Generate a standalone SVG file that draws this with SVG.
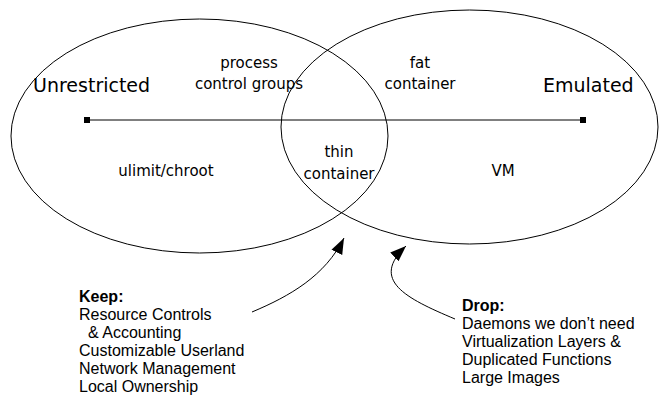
<svg xmlns="http://www.w3.org/2000/svg" width="670" height="409" viewBox="0 0 670 409">
<style>
.el{fill:none;stroke:#000;stroke-width:1}
.big{font-family:"DejaVu Sans",sans-serif;font-size:19px;fill:#000}
.mid{font-family:"DejaVu Sans",sans-serif;font-size:15px;fill:#000;text-anchor:middle}
.note{font-family:"Liberation Sans",Arial,sans-serif;font-size:16px;fill:#000}
.b{font-weight:bold}
.conn{fill:none;stroke:#000;stroke-width:1}
</style>
<defs>
<marker id="sq" markerUnits="userSpaceOnUse" markerWidth="8" markerHeight="8" refX="4" refY="4" orient="auto">
<rect x="1" y="1" width="6" height="6" fill="#000"/>
</marker>
<marker id="ah" markerUnits="userSpaceOnUse" markerWidth="18" markerHeight="14" refX="16" refY="7" orient="auto">
<path d="M16,7 L0,1 L0,13 Z" fill="#000"/>
</marker>
</defs>
<g id="unrestricted-set">
<ellipse class="el" cx="199.5" cy="136" rx="188.5" ry="117"/>
<text class="big" x="33" y="92">Unrestricted</text>
</g>
<g id="emulated-set">
<ellipse class="el" cx="469.5" cy="127" rx="188.5" ry="117"/>
<text class="big" x="543" y="92">Emulated</text>
</g>
<g id="process-control-groups">
<text class="mid" x="249" y="68">process</text>
<text class="mid" x="249" y="89">control groups</text>
</g>
<g id="fat-container">
<text class="mid" x="420" y="68">fat</text>
<text class="mid" x="420" y="89">container</text>
</g>
<g id="thin-container">
<text class="mid" x="339" y="157">thin</text>
<text class="mid" x="339" y="179">container</text>
</g>
<g id="ulimit-chroot">
<text class="mid" x="166" y="176">ulimit/chroot</text>
</g>
<g id="vm">
<text class="mid" x="503" y="176">VM</text>
</g>
<g id="keep">
<text class="note b" x="79" y="302">Keep:</text>
<text class="note" x="79" y="320">Resource Controls</text>
<text class="note" x="88" y="338">&amp; Accounting</text>
<text class="note" x="79" y="356">Customizable Userland</text>
<text class="note" x="79" y="374">Network Management</text>
<text class="note" x="79" y="392">Local Ownership</text>
</g>
<g id="drop">
<text class="note b" x="462" y="311">Drop:</text>
<text class="note" x="462" y="329">Daemons we don’t need</text>
<text class="note" x="462" y="347">Virtualization Layers &amp;</text>
<text class="note" x="462" y="365">Duplicated Functions</text>
<text class="note" x="462" y="383">Large Images</text>
</g>
<g id="connectors">
<line class="conn" x1="87" y1="120" x2="583" y2="120" marker-start="url(#sq)" marker-end="url(#sq)"/>
<path class="conn" d="M252,312 C290,296 325,276 344,238" marker-end="url(#ah)"/>
<path class="conn" d="M455,319 C405,298 370,280 406,246" marker-end="url(#ah)"/>
</g>
</svg>
